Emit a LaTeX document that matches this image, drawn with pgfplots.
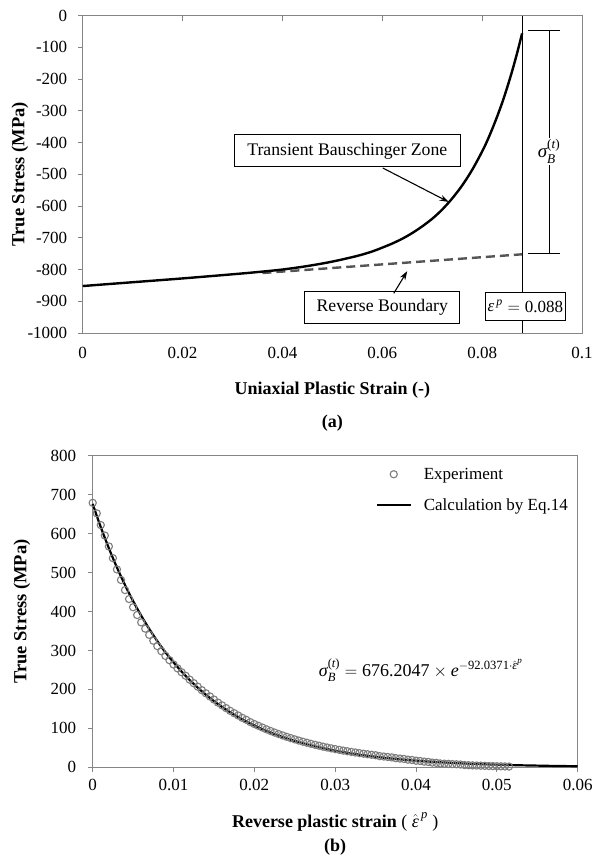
\documentclass[border=0pt]{standalone}
\usepackage{fontspec}
\setmainfont{Liberation Serif}
\usepackage{amsmath}
\usepackage{pgfplots}
\pgfplotsset{compat=1.18}
\usepackage{pgfplotstable}
\usetikzlibrary{arrows.meta}
\definecolor{axgray}{RGB}{134,134,134}
\definecolor{dashgray}{RGB}{85,85,85}
\definecolor{circgray}{RGB}{125,125,125}
\newcommand{\ti}[1]{\textit{#1}}
\pgfplotsset{
  marklegend/.style={legend image code/.code={\draw[mark repeat=2,mark phase=2,##1] plot coordinates {(0pt,0pt) (17pt,0pt) (34pt,0pt)};}},
  linelegend/.style={legend image code/.code={\draw[##1] (0pt,0pt) -- (34pt,0pt);}},
}

\pgfplotstableread{
x y
0 -852
0.01 -840
0.02 -828
0.03 -815
0.035 -808
0.04 -800
0.045 -789
0.05 -775
0.055 -757
0.058 -743
0.06 -731
0.062 -718
0.064 -703
0.066 -685
0.068 -664
0.070 -640
0.072 -611
0.074 -576
0.076 -535
0.078 -486
0.080 -428
0.081 -395
0.082 -358
0.083 -318
0.084 -275
0.085 -227
0.086 -175
0.087 -118
0.088 -56
}\transient

\pgfplotstableread{
x y
0.036 -811
0.088 -752
}\boundary

\pgfplotstableread{
x y
0.0000 679
0.0005 652
0.0010 622
0.0015 595
0.0020 567
0.0025 537
0.0030 508
0.0035 481
0.0040 455
0.0045 432
0.0050 411
0.0055 391
0.0060 372
0.0065 356
0.0070 340
0.0075 325
0.0080 311
0.0085 298
0.0090 286
0.0095 275
0.0100 264
0.0105 254
0.0110 244
0.0115 235
0.0120 225
0.0125 216
0.0130 207
0.0135 198
0.0140 190
0.0145 182
0.0150 174
0.0155 166
0.0160 159
0.0165 152
0.0170 145
0.0175 139
0.0180 133
0.0185 127
0.0190 122
0.0195 116
0.0200 111
0.0205 106.5
0.0210 102
0.0215 97.4
0.0220 93.2
0.0225 89.2
0.0230 85.4
0.0235 81.7
0.0240 78.2
0.0245 74.9
0.0250 71.7
0.0255 68.6
0.0260 65.7
0.0265 63.0
0.0270 60.3
0.0275 57.8
0.0280 55.4
0.0285 53.0
0.0290 50.8
0.0295 48.7
0.0300 46.7
0.0305 44.8
0.0310 42.9
0.0315 41.2
0.0320 39.5
0.0325 37.9
0.0330 36.4
0.0335 34.9
0.0340 33.5
0.0345 32.2
0.0350 30.9
0.0355 28.7
0.0360 27.6
0.0365 26.5
0.0370 25.4
0.0375 23.4
0.0380 22.4
0.0385 21.5
0.0390 19.6
0.0395 18.8
0.0400 17.0
0.0405 16.2
0.0410 14.5
0.0415 13.8
0.0420 12.1
0.0425 11.5
0.0430 9.9
0.0435 9.3
0.0440 8.8
0.0445 8.2
0.0450 7.7
0.0455 7.2
0.0460 5.8
0.0465 5.4
0.0470 4.9
0.0475 4.5
0.0480 4.2
0.0485 3.8
0.0490 3.4
0.0495 3.1
0.0500 2.8
0.0505 2.5
0.0510 2.2
0.0515 1.9
}\experiment

\pgfplotstableread{
x y
0.0000 676.2
0.0005 645.8
0.0010 616.7
0.0015 589.0
0.0020 562.5
0.0025 537.2
0.0030 513.0
0.0035 490.0
0.0040 467.9
0.0045 446.9
0.0050 426.8
0.0055 407.6
0.0060 389.3
0.0065 371.8
0.0070 355.0
0.0075 339.1
0.0080 323.8
0.0085 309.2
0.0090 295.3
0.0095 282.1
0.0100 269.4
0.0110 245.7
0.0120 224.1
0.0130 204.4
0.0140 186.4
0.0150 170.0
0.0160 155.1
0.0170 141.4
0.0180 129.0
0.0190 117.6
0.0200 107.3
0.0210 97.8
0.0220 89.2
0.0230 81.4
0.0240 74.2
0.0250 67.7
0.0260 61.7
0.0270 56.3
0.0280 51.4
0.0290 46.8
0.0300 42.7
0.0310 38.9
0.0320 35.5
0.0330 32.4
0.0340 29.5
0.0350 26.9
0.0360 24.6
0.0370 22.4
0.0380 20.4
0.0390 18.6
0.0400 17.0
0.0410 15.5
0.0420 14.1
0.0430 12.9
0.0440 11.8
0.0450 10.7
0.0460 9.8
0.0470 8.9
0.0480 8.2
0.0490 7.4
0.0500 6.8
0.0510 6.2
0.0520 5.6
0.0530 5.1
0.0540 4.7
0.0550 4.3
0.0560 3.9
0.0570 3.5
0.0580 3.2
0.0590 3.0
0.0600 2.7
}\calculation

\begin{document}
\begin{tikzpicture}[font=\fontsize{17}{20}\selectfont]
\useasboundingbox (0,0) rectangle (599pt,867pt);
% ---------------- (a) ----------------
\begin{axis}[
  at={(82.7pt,534pt)}, anchor=south west,
  scale only axis, width=499.3pt, height=317.3pt,
  xmin=0, xmax=0.1, ymin=-1000, ymax=0,
  xtick={0,0.02,0.04,0.06,0.08,0.1},
  ytick={-1000,-900,-800,-700,-600,-500,-400,-300,-200,-100,0},
  scaled x ticks=false,
  xticklabel style={/pgf/number format/fixed,/pgf/number format/precision=2, yshift=-11pt},
  yticklabel style={xshift=-12pt},
  /pgf/number format/assume math mode=true,
  /pgf/number format/1000 sep={},
  tick align=inside, xtick pos=upper, xticklabel pos=lower, ytick pos=left,
  major tick length=5pt,
  y tick style={xshift=-5pt},
  axis line style={axgray, line width=0.9pt},
  tick style={axgray, line width=0.9pt},
  xlabel={\textbf{Uniaxial Plastic Strain (-)}},
  xlabel style={at={(axis description cs:0.5,-0.1796)}, anchor=center, font=\fontsize{18}{20}\selectfont},
  ylabel={\textbf{True Stress (MPa)}},
  ylabel style={at={(axis description cs:-0.1256,0.5)}, anchor=center, font=\fontsize{18.5}{20}\selectfont},
  clip=false,
]
\addplot[dashgray, line width=2.4pt, dash pattern=on 9pt off 5pt] table {\boundary};
\addplot[black, line width=2.4pt, smooth] table {\transient};
\addplot[black, line width=1.1pt] coordinates {(0.088,-1000) (0.088,0)};
% bracket for sigma_B
\draw[black, line width=1pt] (axis cs:0.0892,-48) -- (axis cs:0.0956,-48);
\draw[black, line width=1pt] (axis cs:0.0892,-751) -- (axis cs:0.0956,-751);
\draw[black, line width=1pt] (axis cs:0.0934,-48) -- (axis cs:0.0934,-751);
\node[fill=white, inner sep=2pt, font=\fontsize{19}{22}\selectfont] at (axis cs:0.0934,-428) {$\ti{σ}_{\ti{B}}^{\textup{(}\ti{t}\textup{)}}$};
% annotations
\node[draw=black, fill=white, line width=0.9pt, minimum width=226pt, minimum height=32pt, inner sep=0pt, font=\fontsize{17.7}{20}\selectfont] (tbz) at (axis cs:0.053,-426) {Transient Bauschinger Zone};
\draw[-{Stealth[length=9pt,width=6pt]}, line width=1.1pt] (axis cs:0.0601,-480) -- (axis cs:0.0733,-587);
\node[draw=black, fill=white, line width=0.9pt, minimum width=155pt, minimum height=32pt, inner sep=0pt, font=\fontsize{17.7}{20}\selectfont] at (axis cs:0.0600,-918) {Reverse Boundary};
\draw[-{Stealth[length=9pt,width=6pt]}, line width=1.1pt] (axis cs:0.0623,-875) -- (axis cs:0.0650,-805);
\node[draw=black, fill=white, line width=0.9pt, minimum width=80pt, minimum height=28pt, inner sep=0pt] at (axis cs:0.08865,-915.5) {$\ti{ε}^{\,\ti{p}} = \textup{0.088}$};
\node[font=\fontsize{18}{20}\selectfont\bfseries] at (axis description cs:0.5,-0.2836) {(a)};
\end{axis}
% ---------------- (b) ----------------
\begin{axis}[
  at={(92.7pt,99.7pt)}, anchor=south west,
  scale only axis, width=485pt, height=311.6pt,
  xmin=0, xmax=0.06, ymin=0, ymax=800,
  xtick={0,0.01,0.02,0.03,0.04,0.05,0.06},
  ytick={0,100,200,300,400,500,600,700,800},
  scaled x ticks=false,
  xticklabel style={/pgf/number format/fixed,/pgf/number format/precision=2, yshift=-3pt},
  yticklabel style={xshift=-8pt},
  /pgf/number format/assume math mode=true,
  tick align=outside, xtick pos=lower, ytick pos=left,
  major tick length=5pt,
  axis line style={axgray, line width=0.9pt},
  tick style={axgray, line width=0.9pt},
  xlabel={\textbf{Reverse plastic strain} ( $\hat{\ti{ε}}^{\,\ti{p}}$ )},
  xlabel style={at={(axis description cs:0.5,-0.1755)}, anchor=center, font=\fontsize{18}{20}\selectfont},
  ylabel={\textbf{True Stress (MPa)}},
  ylabel style={at={(axis description cs:-0.1458,0.5)}, anchor=center, font=\fontsize{18.5}{20}\selectfont},
  legend style={at={(axis description cs:0.583,0.968)}, anchor=north west, draw=none, fill=none,
     row sep=14pt, inner sep=0pt, nodes={inner sep=2pt}},
  legend cell align=left,
  clip=false,
]
\addplot[only marks, mark=o, mark size=3.6pt, circgray, mark options={line width=1.1pt}, marklegend]
  table {\experiment};
\addlegendentry{\hspace{10pt}Experiment}
\addplot[black, line width=2.2pt, smooth, linelegend]
  table {\calculation};
\addlegendentry{\hspace{10pt}Calculation by Eq.14}
\node[font=\fontsize{18}{21}\selectfont] at (axis cs:0.0406,250) {$\ti{σ}_{\ti{B}}^{\textup{(}\ti{t}\textup{)}} = \textup{676.2047}\times \ti{e}^{-\textup{92.0371}\cdot\hat{\ti{ε}}^{\ti{p}}}$};
\node[font=\fontsize{18}{20}\selectfont\bfseries] at (axis description cs:0.5,-0.2558) {(b)};
\end{axis}
\end{tikzpicture}
\end{document}
